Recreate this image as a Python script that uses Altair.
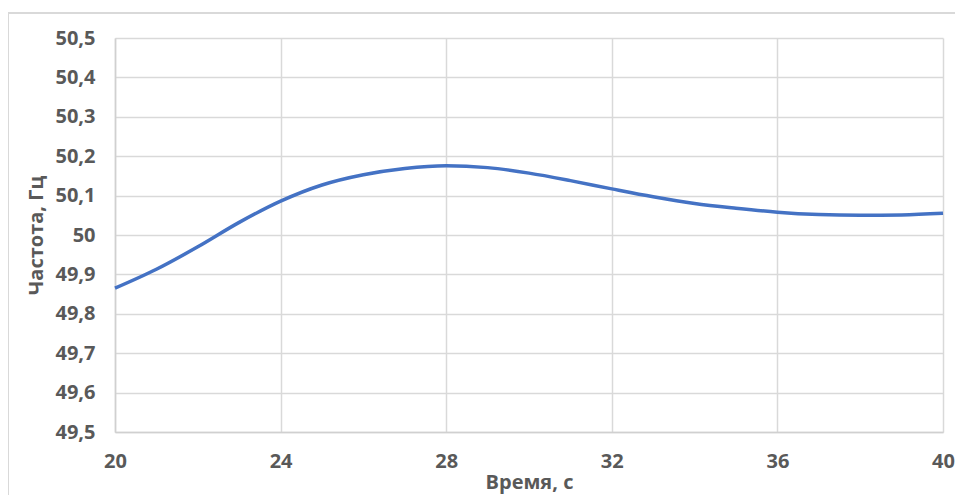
import altair as alt
import pandas as pd

time_s = [20, 21, 22, 23, 24, 25, 26, 27, 28, 29, 30, 31, 32, 33, 34, 35, 36, 37, 38, 39, 40]
freq_hz = [49.865, 49.913, 49.970, 50.032, 50.086, 50.127, 50.153, 50.169, 50.176, 50.171,
           50.157, 50.138, 50.117, 50.097, 50.080, 50.068, 50.058, 50.052, 50.050, 50.051, 50.055]

x_ticks = [20, 24, 28, 32, 36, 40]
y_ticks = [49.5, 49.6, 49.7, 49.8, 49.9, 50.0, 50.1, 50.2, 50.3, 50.4, 50.5]

df = pd.DataFrame({"t": time_s, "f": freq_hz})

FONT = "Open Sans"
GREY = "#595959"

line = alt.Chart(df).mark_line(
    color="#4472C4", strokeWidth=3.5, interpolate="monotone"
).encode(
    x=alt.X("t:Q",
            scale=alt.Scale(domain=[20, 40], nice=False, zero=False),
            axis=alt.Axis(values=x_ticks, title="Время, с", labelPadding=19,
                          labelFlush=False, labelBound=False, labelOverlap=False,
                          titlePadding=1, tickSize=0, format="d")),
    y=alt.Y("f:Q",
            scale=alt.Scale(domain=[49.5, 50.5], nice=False, zero=False),
            axis=alt.Axis(values=y_ticks, title="Частота, Гц", labelPadding=20,
                          titlePadding=8, tickSize=0, labelFlush=False, labelBound=False,
                          labelOverlap=False,
                          labelExpr="replace(format(datum.value, '.1~f'), '.', ',')")),
)

border_top = alt.Chart(df).mark_rule(color="#d9d9d9", strokeWidth=1.5).encode(
    x=alt.value(-107), x2=alt.value(860), y=alt.value(-25)
)
border_left = alt.Chart(df).mark_rule(color="#d9d9d9", strokeWidth=1.5).encode(
    x=alt.value(-107), y=alt.value(-25), y2=alt.value(470)
)

chart = alt.layer(border_top, border_left, line).properties(
    width=828, height=394,
    autosize=alt.AutoSizeParams(type="none"),
    padding={"left": 107, "top": 30, "right": 12, "bottom": 70},
).configure_view(
    stroke=None
).configure_axis(
    labelFont=FONT, labelFontSize=20, labelFontWeight="bold", labelColor=GREY,
    titleFont=FONT, titleFontSize=20, titleFontWeight="bold", titleColor=GREY,
    gridColor="#d9d9d9", gridWidth=1.5, domainColor="#d0d0d0", domainWidth=1.5,
)

chart.save("out.html", embed_options={"renderer": "svg", "actions": False})
